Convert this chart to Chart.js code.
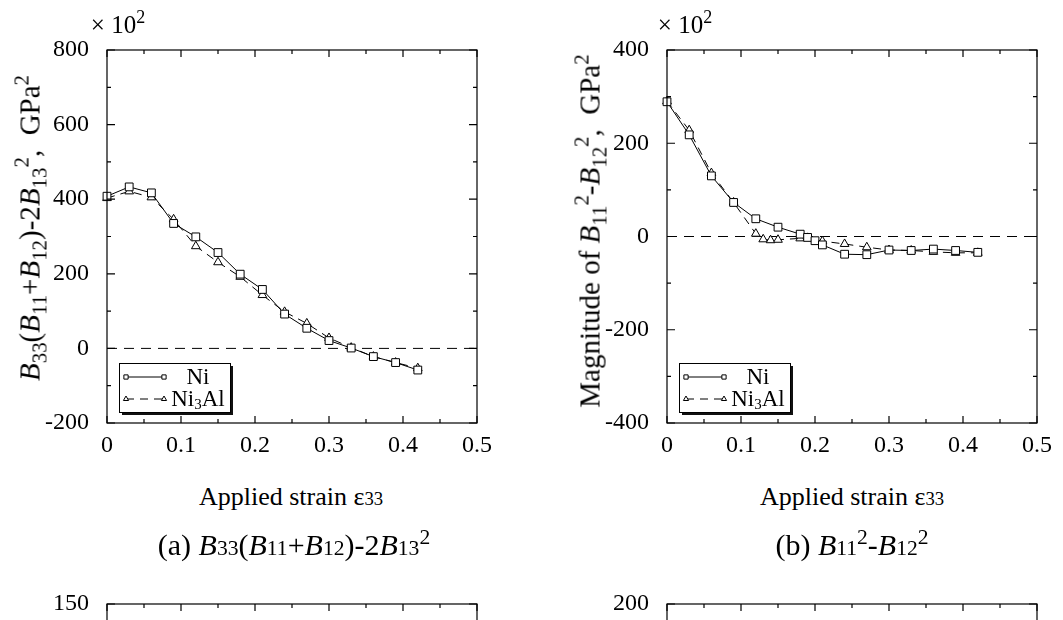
<!DOCTYPE html>
<html>
<head>
<meta charset="utf-8">
<script src="https://cdn.jsdelivr.net/npm/chart.js@4.4.1/dist/chart.umd.min.js"></script>
<style>
  html, body { margin: 0; padding: 0; width: 1063px; height: 620px; overflow: hidden; background: #fff; }
  body { position: relative; font-family: 'Liberation Serif', 'Times New Roman', serif; color: #000; }
  canvas { position: absolute; }
  .lbl { position: absolute; white-space: nowrap; font-size: 26px; transform: translate(-50%, -50%); line-height: 1; }
  .ytitle { transform: translate(-50%, -50%) rotate(-90deg); font-size: 29px; }
  .lbl sub, .lbl sup { font-size: 72%; line-height: 0; }
  .lbl small { font-size: 72%; }
  .exp { font-size: 25px; }
  .cap { font-size: 30px; }
</style>
</head>
<body>
<canvas id="chartA" width="500" height="470" style="left:0;top:0"></canvas>
<canvas id="chartB" width="500" height="470" style="left:560px;top:0"></canvas>
<canvas id="chartC" width="500" height="470" style="left:0;top:554px"></canvas>
<canvas id="chartD" width="500" height="470" style="left:560px;top:554px"></canvas>

<div class="lbl exp" style="left:118px;top:24px">× 10<sup>2</sup></div>
<div class="lbl exp" style="left:685px;top:24px">× 10<sup>2</sup></div>

<div class="lbl ytitle" style="left:30px;top:228px"><i>B</i><sub>33</sub>(<i>B</i><sub>11</sub>+<i>B</i><sub>12</sub>)-2<i>B</i><sub>13</sub><sup>2</sup>,&nbsp; GPa<sup>2</sup></div>
<div class="lbl ytitle" style="left:590px;top:231px">Magnitude of <i>B</i><sub>11</sub><sup>2</sup>-<i>B</i><sub>12</sub><sup>2</sup>,&nbsp; GPa<sup>2</sup></div>

<div class="lbl" style="left:291px;top:497px">Applied strain ε<small>33</small></div>
<div class="lbl" style="left:852px;top:497px">Applied strain ε<small>33</small></div>

<div class="lbl cap" style="left:294px;top:545px">(a) <i>B</i><small>33</small>(<i>B</i><small>11</small>+<i>B</i><small>12</small>)-2<i>B</i><small>13</small><sup>2</sup></div>
<div class="lbl cap" style="left:852px;top:545px">(b) <i>B</i><small>11</small><sup>2</sup>-<i>B</i><small>12</small><sup>2</sup></div>

<script>
// (a) B33(B11+B12)-2B13^2, x10^2 GPa^2
const strainA = [0, 0.03, 0.06, 0.09, 0.12, 0.15, 0.18, 0.21, 0.24, 0.27, 0.30, 0.33, 0.36, 0.39, 0.42];
const niA     = [408, 433, 417, 335, 299, 257, 199, 158, 92, 54, 21, 1, -22, -38, -58];
const ni3alA  = [403, 421, 405, 346, 274, 231, 192, 143, 98, 67, 28, 2, -22, -38, -53];

// (b) B11^2-B12^2, x10^2 GPa^2
const strainNiB = [0, 0.03, 0.06, 0.09, 0.12, 0.15, 0.18, 0.19, 0.20, 0.21, 0.24, 0.27, 0.30, 0.33, 0.36, 0.39, 0.42];
const niB       = [289, 218, 130, 73, 38, 20, 5, -2, -9, -18, -38, -39, -29, -30, -27, -30, -34];
const strainAlB = [0, 0.03, 0.06, 0.09, 0.12, 0.13, 0.14, 0.15, 0.18, 0.19, 0.21, 0.24, 0.27, 0.30, 0.33, 0.36, 0.39, 0.42];
const ni3alB    = [290, 228, 136, 73, 6, -6, -8, -7, -4, -3, -10, -16, -23, -29, -30, -33, -35, -35];

const xTicks = [0, 0.1, 0.2, 0.3, 0.4, 0.5];
const seriesNames = ['Ni', 'Ni3Al'];

const FONT = 'Liberation Serif';
const pts = (xs, ys) => xs.map((x, i) => ({ x: x, y: ys[i] }));

function seriesSets(xNi, yNi, xAl, yAl) {
  return [
    { label: seriesNames[0], data: pts(xNi, yNi), showLine: true, order: 1, clip: false,
      borderColor: '#000', borderWidth: 1, pointStyle: 'rect', pointRadius: 5.5,
      pointBackgroundColor: '#fff', pointBorderColor: '#000', pointBorderWidth: 1 },
    { label: seriesNames[1], data: pts(xAl, yAl), showLine: true, order: 2, clip: false,
      borderColor: '#000', borderWidth: 1, borderDash: [8, 6], pointStyle: 'triangle', pointRadius: 5,
      pointBackgroundColor: '#fff', pointBorderColor: '#000', pointBorderWidth: 1 },
    { label: 'zero', data: [{ x: 0, y: 0 }, { x: 0.5, y: 0 }], showLine: true, order: 3,
      borderColor: '#000', borderWidth: 1, borderDash: [10, 7], pointRadius: 0 }
  ];
}

// frame, inward ticks and the boxed legend
const framePlugin = {
  id: 'frame',
  afterDraw(chart, args, opts) {
    const ctx = chart.ctx, a = chart.chartArea;
    const xs = chart.scales.x, ys = chart.scales.y;
    ctx.save();
    ctx.strokeStyle = '#000';
    ctx.lineWidth = 1.2;
    ctx.strokeRect(a.left, a.top, a.right - a.left, a.bottom - a.top);

    const xt = xs.ticks.map(t => t.value), yt = ys.ticks.map(t => t.value);
    const tick = (vals, major) => {
      vals.forEach(v => {
        const len = major ? 7 : 4;
        ctx.beginPath();
        const px = xs.getPixelForValue(v);
        ctx.moveTo(px, a.bottom); ctx.lineTo(px, a.bottom - len);
        ctx.moveTo(px, a.top); ctx.lineTo(px, a.top + len);
        ctx.stroke();
      });
    };
    tick(xt, true);
    tick(xt.slice(1).map((v, i) => (v + xt[i]) / 2), false);
    const ytick = (vals, major) => {
      vals.forEach(v => {
        const len = major ? 8 : 4;
        const py = ys.getPixelForValue(v);
        ctx.beginPath();
        ctx.moveTo(a.left, py); ctx.lineTo(a.left + len, py);
        ctx.moveTo(a.right, py); ctx.lineTo(a.right - len, py);
        ctx.stroke();
      });
    };
    ytick(yt, true);
    ytick(yt.slice(1).map((v, i) => (v + yt[i]) / 2), false);

    if (opts.legend) {
      const bx = a.left + 12, by = a.bottom - 11 - 49, bw = 111, bh = 49;
      ctx.fillStyle = '#111';
      ctx.fillRect(bx + 3, by + 3, bw, bh);
      ctx.fillStyle = '#fff';
      ctx.fillRect(bx, by, bw, bh);
      ctx.lineWidth = 1;
      ctx.strokeRect(bx + 0.5, by + 0.5, bw, bh);
      const rows = [by + 14, by + 36];
      chart.data.datasets.slice(0, 2).forEach((ds, i) => {
        const y = rows[i];
        ctx.setLineDash(ds.borderDash || []);
        ctx.beginPath();
        ctx.moveTo(bx + 7, y); ctx.lineTo(bx + 45, y);
        ctx.stroke();
        ctx.setLineDash([]);
        ctx.fillStyle = '#fff';
        [bx + 7, bx + 45].forEach(px => {
          Chart.helpers.drawPoint(ctx, { pointStyle: ds.pointStyle, radius: 3, borderWidth: 1, rotation: 0 }, px, y);
        });
        // name, with the digit in Ni3Al set as a subscript
        ctx.fillStyle = '#000';
        ctx.textBaseline = 'middle';
        const parts = ds.label.match(/^([A-Za-z]+)(\d?)([A-Za-z]*)$/);
        const big = '23px "' + FONT + '"', small = '15px "' + FONT + '"';
        ctx.font = big; const w1 = ctx.measureText(parts[1]).width;
        ctx.font = small; const w2 = ctx.measureText(parts[2]).width;
        ctx.font = big; const w3 = ctx.measureText(parts[3]).width;
        let tx = bx + 79 - (w1 + w2 + w3) / 2;
        ctx.textAlign = 'left';
        ctx.fillText(parts[1], tx, y + 1); tx += w1;
        ctx.font = small; ctx.fillText(parts[2], tx, y + 6); tx += w2;
        ctx.font = big; ctx.fillText(parts[3], tx, y + 1);
      });
    }
    ctx.restore();
  }
};

function makeChart(id, datasets, yMin, yMax, yStep, legend) {
  return new Chart(document.getElementById(id), {
    type: 'scatter',
    data: { datasets: datasets },
    options: {
      responsive: false,
      animation: false,
      layout: { padding: { left: 0, top: 50, right: 23, bottom: 0 } },
      plugins: { legend: { display: false }, tooltip: { enabled: false }, frame: { legend: legend } },
      scales: {
        x: {
          type: 'linear', min: 0, max: 0.5,
          grid: { display: false, drawTicks: false }, border: { display: false },
          afterBuildTicks: s => { s.ticks = xTicks.map(v => ({ value: v })); },
          ticks: { padding: 8, color: '#000', font: { family: FONT, size: 24 },
                   callback: v => v === 0 ? '0' : v.toFixed(1) },
          afterFit: s => { s.height = 47; }
        },
        y: {
          min: yMin, max: yMax,
          grid: { display: false, drawTicks: false }, border: { display: false },
          ticks: { stepSize: yStep, padding: 18, color: '#000', font: { family: FONT, size: 24 } },
          afterFit: s => { s.width = 107; }
        }
      }
    },
    plugins: [framePlugin]
  });
}

makeChart('chartA', seriesSets(strainA, niA, strainA, ni3alA), -200, 800, 200, true);
makeChart('chartB', seriesSets(strainNiB, niB, strainAlB, ni3alB), -400, 400, 200, true);
// the next row of panels, cut off by the bottom of the page
makeChart('chartC', [], 0, 150, 50, false);
makeChart('chartD', [], 0, 200, 100, false);
</script>
</body>
</html>
